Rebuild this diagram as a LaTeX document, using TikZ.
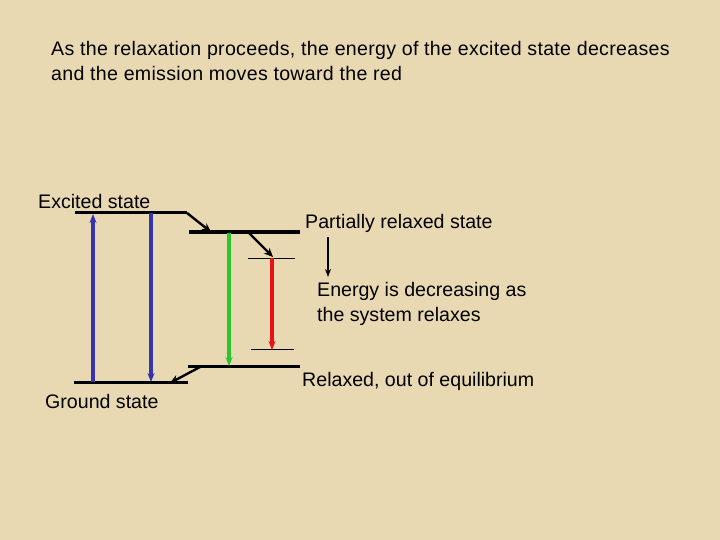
\documentclass[tikz,border=0pt]{standalone}
\usepackage{fontspec}
\setmainfont{Liberation Sans}
\usetikzlibrary{arrows.meta}
\definecolor{parch}{RGB}{233,217,178}
\definecolor{lvblue}{RGB}{52,52,176}
\definecolor{lvgreen}{RGB}{40,200,40}
\definecolor{lvred}{RGB}{232,20,20}
\tikzset{
  level/.style={line width=3pt},
  thinlevel/.style={line width=0.9pt},
  trans/.style={line width=3.2pt,-{Stealth[length=9pt,width=7pt]}},
  relax/.style={line width=2.4pt,-{Stealth[length=9pt,width=8pt]}},
  lbl/.style={anchor=west,inner sep=0pt,font=\fontsize{19.6}{24.5}\selectfont},
}
\begin{document}
\begin{tikzpicture}[x=1pt,y=-1pt]
\useasboundingbox (0,0) rectangle (720,540);
\fill[parch] (0,0) rectangle (720,540);
% title
\node[lbl,align=left,font=\fontsize{19.6}{25}\selectfont\addfontfeature{LetterSpace=1.5}] (title) at (51,61) {As the relaxation proceeds, the energy of the excited state decreases\\and the emission moves toward the red};
% levels
\coordinate (ex1) at (75,213); \coordinate (ex2) at (187,213);
\coordinate (pr1) at (189,232); \coordinate (pr2) at (300,232);
\coordinate (gr1) at (74,382);  \coordinate (gr2) at (188,382);
\coordinate (rl1) at (188,366); \coordinate (rl2) at (300,366);
\coordinate (t1a) at (248,258); \coordinate (t1b) at (295,258);
\coordinate (t2a) at (251,349); \coordinate (t2b) at (294,349);
\draw[level] (ex1) -- (ex2);
\draw[level] (pr1) -- (pr2);
\draw[level] (gr1) -- (gr2);
\draw[level] (rl1) -- (rl2);
\draw[thinlevel] (t1a) -- (t1b);
\draw[thinlevel] (t2a) -- (t2b);
% relaxation arrows
\coordinate (prs) at (211,232);
\draw[relax] (ex2) -- (prs);
\coordinate (pra) at (248,232); \coordinate (prb) at (273,257);
\draw[relax] (pra) -- (prb);
\coordinate (rla) at (200,367); \coordinate (rlb) at (170,383);
\draw[relax] (rla) -- (rlb);
% transitions
\coordinate (bu1) at (93,382); \coordinate (bu2) at (93,214);
\draw[trans,lvblue] (bu1) -- (bu2);
\coordinate (bd1) at (151,213); \coordinate (bd2) at (151,382);
\draw[trans,lvblue] (bd1) -- (bd2);
\coordinate (g1) at (229,233); \coordinate (g2) at (229,366);
\draw[trans,lvgreen] (g1) -- (g2);
\coordinate (r1) at (272,258); \coordinate (r2) at (272,350);
\draw[trans,lvred] (r1) -- (r2);
% labels
\node[lbl] (exl) at (38,201) {Excited state};
\node[lbl] (prl) at (305,223.5) {Partially relaxed state};
\node[lbl,align=left] (enl) at (317,304) {Energy is decreasing as\\the system relaxes};
\node[lbl] (rll) at (302,381) {Relaxed, out of equilibrium};
\node[lbl] (grl) at (45,401.5) {Ground state};
\coordinate (sa) at (328,237); \coordinate (sb) at (328,277);
\draw[line width=1.5pt,-{Stealth[length=8pt,width=6pt]}] (sa) -- (sb);
\end{tikzpicture}
\end{document}
